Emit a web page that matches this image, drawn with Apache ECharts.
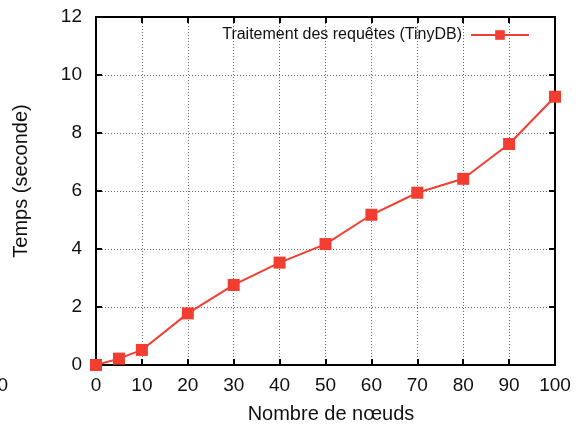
<!DOCTYPE html>
<html>
<head>
<meta charset="utf-8">
<script src="https://cdn.jsdelivr.net/npm/echarts@6/dist/echarts.min.js"></script>
<style>
  html, body { margin: 0; padding: 0; background: #fff; }
  #chart { width: 580px; height: 428px; }
</style>
</head>
<body>
<div id="chart"></div>
<script>
// Query processing time versus number of nodes
const nodeCounts = [0, 5, 10, 20, 30, 40, 50, 60, 70, 80, 90, 100];
const timesSeconds = [0.0, 0.22, 0.52, 1.78, 2.76, 3.53, 4.17, 5.18, 5.94, 6.42, 7.62, 9.25];
const seriesName = 'Traitement des requêtes (TinyDB)';
const xTitle = 'Nombre de nœuds';
const yTitle = 'Temps (seconde)';

const FONT = 'Liberation Sans, Arial, Helvetica, sans-serif';
const RED = '#f23d31';
const INK = '#111';

const points = nodeCounts.map((n, i) => [n, timesSeconds[i]]);

const chart = echarts.init(document.getElementById('chart'), null, { renderer: 'canvas' });

const dotted = { show: true, lineStyle: { color: '#666', type: [1, 2], width: 1 } };
const frameLine = { show: true, onZero: false, lineStyle: { color: '#000', width: 2 } };
const innerTicks = { show: true, inside: true, length: 6, lineStyle: { color: '#000', width: 2 } };

chart.setOption({
  animation: false,
  backgroundColor: '#fff',
  textStyle: { fontFamily: FONT },
  grid: { left: 96, top: 17, right: 25, bottom: 63, containLabel: false },
  legend: {
    show: true,
    right: 50,
    top: 27,
    padding: 0,
    align: 'right',
    itemWidth: 58,
    itemHeight: 12,
    itemGap: 0,
    textStyle: { fontFamily: FONT, fontSize: 16, color: INK, padding: [0, 4, 0, 0] },
    data: [{ name: seriesName }]
  },
  xAxis: [
    {
      type: 'value', min: 0, max: 100, interval: 10,
      position: 'bottom',
      axisLine: frameLine, axisTick: innerTicks,
      axisLabel: { fontFamily: FONT, fontSize: 19, color: INK, margin: 11 },
      splitLine: dotted
    },
    {
      type: 'value', min: 0, max: 100, interval: 10,
      position: 'top',
      axisLine: frameLine, axisTick: innerTicks,
      axisLabel: { show: false }, splitLine: { show: false }
    }
  ],
  yAxis: [
    {
      type: 'value', min: 0, max: 12, interval: 2,
      position: 'left',
      axisLine: frameLine, axisTick: innerTicks,
      axisLabel: { fontFamily: FONT, fontSize: 19, color: INK, margin: 14 },
      splitLine: dotted
    },
    {
      type: 'value', min: 0, max: 12, interval: 2,
      position: 'right',
      axisLine: frameLine, axisTick: innerTicks,
      axisLabel: { show: false }, splitLine: { show: false }
    }
  ],
  series: [
    {
      name: seriesName,
      type: 'line',
      data: points,
      symbol: 'rect',
      symbolSize: 12,
      showAllSymbol: true,
      clip: false,
      lineStyle: { color: RED, width: 2 },
      itemStyle: { color: RED },
      z: 5
    }
  ],
  graphic: [
    {
      type: 'text',
      x: 331, y: 414,
      style: { text: xTitle, fontFamily: FONT, fontSize: 20, fill: INK, align: 'center', verticalAlign: 'middle' }
    },
    {
      type: 'text',
      x: 21, y: 181, rotation: Math.PI / 2,
      style: { text: yTitle, fontFamily: FONT, fontSize: 20, fill: INK, align: 'center', verticalAlign: 'middle' }
    },
    {
      type: 'text',
      x: 8, y: 386,
      style: { text: '0', fontFamily: FONT, fontSize: 19, fill: INK, align: 'right', verticalAlign: 'middle' }
    }
  ]
});
</script>
</body>
</html>
